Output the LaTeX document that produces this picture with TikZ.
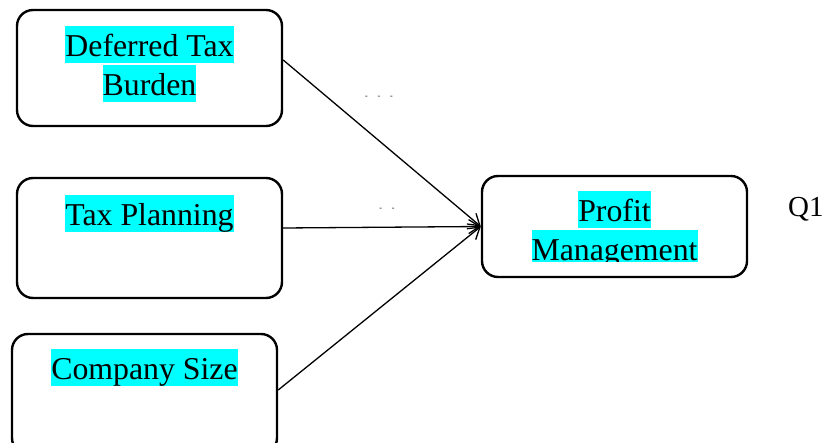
\documentclass[tikz,border=0pt]{standalone}
\usepackage{fontspec}
\setmainfont{Liberation Serif}
\usetikzlibrary{arrows.meta, positioning}
\definecolor{hlcyan}{RGB}{0,255,255}
\newcommand{\hl}[1]{{\setlength{\fboxsep}{0pt}\colorbox{hlcyan}{\rule[-0.2em]{0pt}{1.15em}#1}}}

\begin{document}
\begin{tikzpicture}[
  x=1pt, y=-1pt,
  node distance=17pt,
  box/.style={draw, rounded corners=16pt, line width=2.4pt, minimum width=265pt},
  txt/.style={inner sep=0pt, align=center, font=\fontsize{31.8}{39}\selectfont},
  dots/.style={inner sep=0pt, font=\fontsize{8}{8}\selectfont},
  >={Straight Barb[length=11pt,width=14pt]}
]
\useasboundingbox (0,0) rectangle (826,443);
\node[box, minimum height=116pt] (burden) at (149.5,68) {};
\node[box, minimum height=120pt] (plan) at (149.5,238) {};
\node[box, minimum height=120pt] (size) at (144.5,394) {};
\node[box, minimum height=101pt] (profit) at (614.5,226.5) {};
\node[txt, below=of burden.north] (burdentxt) {\hl{Deferred Tax}\\\hl{Burden}};
\node[txt, below=18pt of plan.north] (plantxt) {\hl{Tax Planning}};
\node[txt, below=16pt of size.north] (sizetxt) {\hl{Company Size}};
\begin{scope}
  \clip (470,170) rectangle (760,262);
  \node[txt, below=16pt of profit.north] (profittxt) {\hl{Profit}\\\hl{Management}};
\end{scope}
\draw[->, line width=1.3pt] ([yshift=8pt]burden.east) -- (profit.west);
\draw[->, line width=1.3pt] ([yshift=10pt]plan.east) -- (profit.west);
\draw[->, line width=1.3pt] ([yshift=4pt]size.east) -- (profit.west);
\node[dots] (dotsa) at (379,97) {-\hspace{9.8pt}-\hspace{9.8pt}-};
\node[dots] (dotsb) at (387,209) {-\hspace{9.8pt}-};
\node[anchor=base west, inner sep=0pt, font=\fontsize{29}{29}\selectfont] (q) at (788,217) {Q1};
\end{tikzpicture}
\end{document}
